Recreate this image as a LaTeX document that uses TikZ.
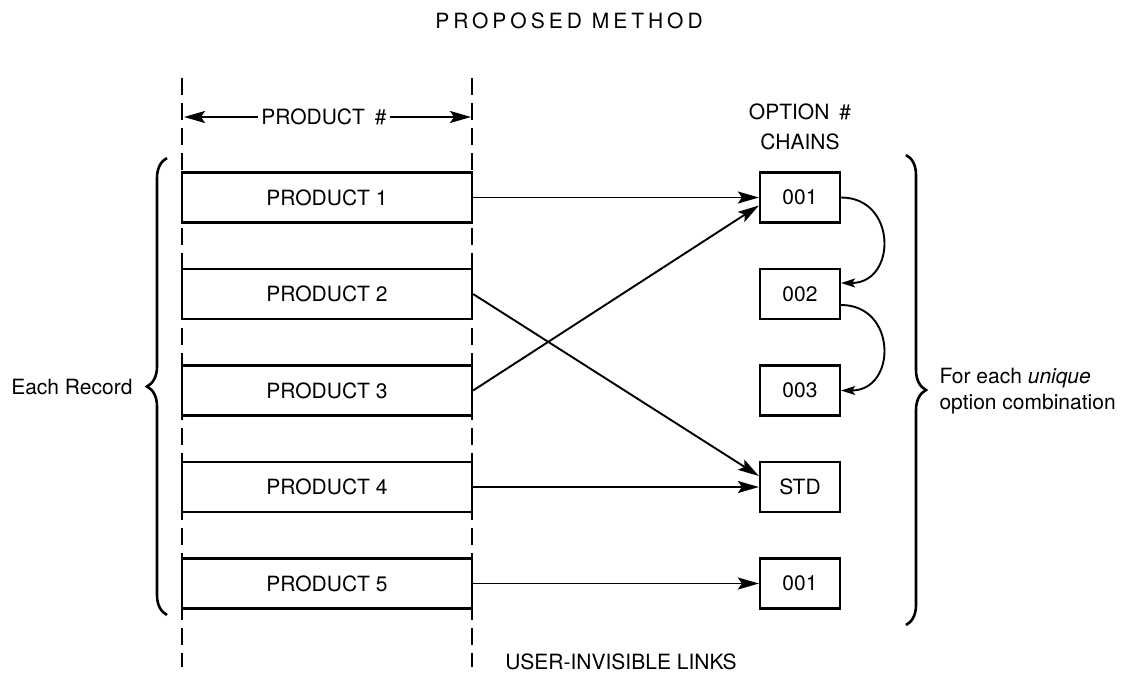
\documentclass[tikz,border=0pt]{standalone}
\usepackage{fontspec}
\setmainfont{TeX Gyre Heros}
\newfontfamily\spacedfont[LetterSpace=19]{TeX Gyre Heros}
\usetikzlibrary{arrows.meta,decorations.pathreplacing,calc}

\begin{document}
\begin{tikzpicture}[x=1pt,y=-1pt,
  font=\fontsize{21}{25}\selectfont,
  prodbox/.style={draw, line width=2.2pt, minimum width=290pt, minimum height=50pt, inner sep=0pt},
  optbox/.style={draw, line width=2.2pt, minimum width=80pt, minimum height=50pt, inner sep=0pt},
  link/.style={line width=1.9pt, -{Stealth[length=21pt,width=12pt,inset=4pt]}},
  chain/.style={line width=1.9pt, -{Stealth[length=14pt,width=9pt,inset=3pt]}},
  guide/.style={line width=1.9pt, dash pattern=on 17pt off 8pt},
  bracket/.style={line width=2.6pt, decorate, decoration={brace, amplitude=20pt}},
]
\useasboundingbox[fill=white] (0,0) rectangle (1126,675);

% title
\node (title) at (569,21) {{\spacedfont\fontsize{21}{25}\selectfont PROPOSED METHOD}};

% column guides for the product number field
\coordinate (gl1) at (182,78);
\coordinate (gl2) at (182,667);
\coordinate (gr1) at (472,78);
\coordinate (gr2) at (472,667);
\draw[guide] (gl1) -- (gl2);
\draw[guide] (gr1) -- (gr2);

% field width marker
\node (pn) at (324,117) {PRODUCT\hspace{10pt}\#};
\coordinate (pnl) at (184,117);
\coordinate (pnr) at (471,117);
\draw[link] (pn.west) -- (pnl);
\draw[link] (pn.east) -- (pnr);

% product records
\node[prodbox] (p1) at (327,197.5) {PRODUCT 1};
\node[prodbox] (p2) at (327,294) {PRODUCT 2};
\node[prodbox] (p3) at (327,390.5) {PRODUCT 3};
\node[prodbox] (p4) at (327,487) {PRODUCT 4};
\node[prodbox] (p5) at (327,583.5) {PRODUCT 5};

% option chains
\node[align=center, font=\fontsize{21}{30}\selectfont] (oh) at (800,127) {OPTION\hspace{10pt}\#\\CHAINS};
\node[optbox] (o1) at (800,197.5) {001};
\node[optbox] (o2) at (800,294) {002};
\node[optbox] (o3) at (800,390.5) {003};
\node[optbox] (o4) at (800,487) {STD};
\node[optbox] (o5) at (800,583.5) {001};

% links from records to chains
\draw[link] (p1.east) -- (o1.west);
\draw[link] (p3.east) -- ([yshift=-8pt]o1.west);
\draw[link] (p2.east) -- ([yshift=11pt]o4.west);
\draw[link] (p4.east) -- (o4.west);
\draw[link] (p5.east) -- (o5.west);

% chain pointers
\draw[chain] (o1.east) .. controls +(56,0) and +(56,0) .. ([yshift=11pt]o2.east);
\draw[chain] ([yshift=-11pt]o2.east) .. controls +(56,0) and +(56,0) .. (o3.east);

% braces
\coordinate (lb1) at (167,615);
\coordinate (lb2) at (167,158);
\draw[bracket] (lb1) -- (lb2);
\node[anchor=east] (er) at (136,387) {Each Record};

\coordinate (rb1) at (906,155);
\coordinate (rb2) at (906,625);
\draw[bracket] (rb1) -- (rb2);
\node[anchor=west, align=left, font=\fontsize{21}{26}\selectfont] (fe) at (936,391) {For each \textit{unique}\\option combination};

% bottom caption
\node (ul) at (621,662) {USER-INVISIBLE LINKS};
\end{tikzpicture}
\end{document}
